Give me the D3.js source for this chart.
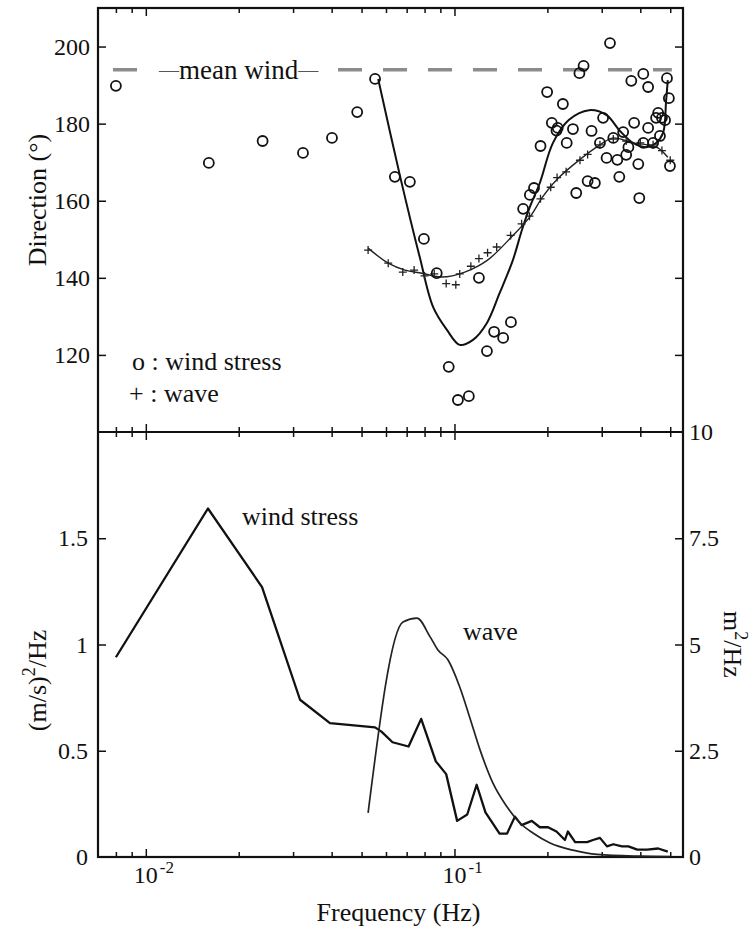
<!DOCTYPE html>
<html>
<head>
<meta charset="utf-8">
<script src="https://cdn.jsdelivr.net/npm/d3@7"></script>
<style>
  body { margin: 0; background: #fff; }
  text { font-family: "Liberation Serif", "Times New Roman", serif; fill: #111; }
</style>
</head>
<body>
<div id="chart"></div>
<script>
// ---- data ----
// top panel: wind stress direction (circles)
const windDirF = [0.0080, 0.0160, 0.0239, 0.0323, 0.0401, 0.0484, 0.0553, 0.0641, 0.0717, 0.0796,
  0.0876, 0.0958, 0.1026, 0.1113, 0.120, 0.1274, 0.1344, 0.1438, 0.1524, 0.1669,
  0.1755, 0.181, 0.190, 0.1996, 0.2067, 0.214, 0.216, 0.2245, 0.231, 0.242,
  0.248, 0.254, 0.262, 0.270, 0.278, 0.285, 0.296, 0.303, 0.311, 0.319,
  0.327, 0.337, 0.342, 0.352, 0.360, 0.366, 0.374, 0.382, 0.394, 0.397,
  0.409, 0.409, 0.424, 0.424, 0.440, 0.450, 0.457, 0.463, 0.470, 0.481,
  0.488, 0.495, 0.499];
const windDirV = [189.8, 169.8, 175.5, 172.4, 176.3, 183.0, 191.6, 166.2, 164.9, 150.1,
  141.2, 116.9, 108.3, 109.3, 140, 121, 126, 124.4, 128.5, 157.9,
  161.5, 163.3, 174.2, 188.2, 180.2, 178.2, 178.9, 185.1, 175, 178.6,
  162, 193.1, 195, 165.1, 178.1, 164.6, 175, 181.5, 171.1, 200.9,
  176.3, 170.6, 166.2, 177.8, 171.9, 173.9, 191.1, 180.2, 169.5, 160.7,
  192.9, 175, 189.5, 178.9, 175, 181.5, 182.8, 176.8, 181.5, 180.9,
  191.8, 186.6, 169];

// top panel: wave direction (crosses)
const waveDirF = [0.0525, 0.061, 0.068, 0.074, 0.080, 0.086, 0.094, 0.101, 0.104, 0.113,
  0.120, 0.128, 0.137, 0.152, 0.165, 0.175, 0.190, 0.205, 0.215, 0.230,
  0.255, 0.270, 0.296, 0.327, 0.360, 0.400, 0.440, 0.470, 0.500];
const waveDirV = [147.2, 143.8, 141.5, 142, 140.5, 141, 138.5, 138.2, 141, 143,
  145, 146.5, 148, 151, 154, 156, 160.5, 163.5, 166, 167.5,
  170.5, 172, 174.5, 176, 175.5, 175, 174.5, 173, 170.5];

// top panel: fitted curves
const windFitF = [0.0566, 0.0668, 0.0771, 0.0853, 0.0945, 0.104, 0.1148, 0.1274, 0.140, 0.1546,
  0.1654, 0.1755, 0.189, 0.2085, 0.235, 0.273, 0.311, 0.342, 0.379, 0.418,
  0.450, 0.474, 0.485, 0.491];
const windFitV = [191.6, 166, 145.5, 132.4, 126.5, 122.6, 123.9, 128.3, 136, 144.6,
  152.4, 158.4, 164.6, 175, 181, 183.5, 182.2, 178.3, 175, 173.9,
  175, 177.6, 186.1, 191.3];
const waveFitF = [0.0525, 0.061, 0.0691, 0.0784, 0.091, 0.108, 0.128, 0.153, 0.1755, 0.193,
  0.214, 0.254, 0.296, 0.327, 0.379, 0.421, 0.456, 0.491];
const waveFitV = [147.7, 143.8, 142, 141.2, 140.2, 141.5, 144.6, 150.6, 155.8, 161,
  165.4, 170.6, 174.5, 176.3, 175, 174.5, 173.7, 171.3];

const meanWind = 194;
const meanWindSpan = [0.00783, 0.506];

// bottom panel: wind stress spectrum, (m/s)^2/Hz (left axis)
const windSpecF = [0.0080, 0.0159, 0.0238, 0.0316, 0.0395, 0.0553, 0.058, 0.063, 0.071, 0.078,
  0.087, 0.094, 0.102, 0.110, 0.118, 0.126, 0.140, 0.148, 0.157, 0.165,
  0.178, 0.189, 0.201, 0.214, 0.228, 0.233, 0.246, 0.269, 0.281, 0.296,
  0.312, 0.327, 0.349, 0.366, 0.391, 0.421, 0.457, 0.491];
const windSpecV = [0.94, 1.64, 1.27, 0.74, 0.63, 0.61, 0.59, 0.54, 0.52, 0.65,
  0.45, 0.39, 0.17, 0.20, 0.34, 0.21, 0.11, 0.11, 0.19, 0.15,
  0.17, 0.14, 0.14, 0.12, 0.08, 0.12, 0.07, 0.07, 0.08, 0.09,
  0.05, 0.06, 0.05, 0.05, 0.035, 0.035, 0.04, 0.025];

// bottom panel: wave spectrum, m^2/Hz (right axis)
const waveSpecF = [0.0525, 0.0681, 0.0756, 0.0834, 0.0884, 0.0952, 0.104, 0.112, 0.121, 0.133,
  0.148, 0.163, 0.180, 0.204, 0.242, 0.290, 0.397, 0.499];
const waveSpecV = [1.04, 5.53, 5.62, 5.18, 4.87, 4.64, 4.0, 3.29, 2.52, 1.75,
  1.18, 0.8, 0.56, 0.33, 0.16, 0.06, 0.02, 0.01];

// ticks
const dirTicks = [120, 140, 160, 180, 200];
const specTicks = [0, 0.5, 1, 1.5];
const waveTicks = [0, 2.5, 5, 7.5, 10];
const freqMajor = [0.01, 0.1];
const freqExp = ['-2', '-1'];
const freqMinor = [0.008, 0.009, 0.02, 0.03, 0.04, 0.05, 0.06, 0.07, 0.08, 0.09, 0.2, 0.3, 0.4, 0.5];

// ---- layout ----
const W = 752, H = 929;
const pLeft = 98, pRight = 683, pTop = 8, pMid = 432, pBottom = 857;

const svg = d3.select('#chart').append('svg')
    .attr('width', W)
    .attr('height', H);

const x     = d3.scaleLog().domain([0.007, 0.55]).range([pLeft, pRight]);
const yDir  = d3.scaleLinear().domain([100, 210]).range([pMid, pTop]);
const ySpec = d3.scaleLinear().domain([0, 2]).range([pBottom, pMid]);
const yWave = d3.scaleLinear().domain([0, 10]).range([pBottom, pMid]);
const plain = d => String(d);

function styleAxis(g, size) {
  g.select('.domain').remove();
  g.selectAll('line').attr('stroke', '#111').attr('stroke-width', 1.5);
  g.selectAll('text').attr('font-size', size).attr('fill', '#111')
    .attr('font-family', '"Liberation Serif", serif');
}

// y axes
svg.append('g').attr('transform', `translate(${pLeft},0)`)
  .call(d3.axisLeft(yDir).tickValues(dirTicks).tickSize(-8).tickPadding(8).tickFormat(plain))
  .call(g => styleAxis(g, 24));
svg.append('g').attr('transform', `translate(${pRight},0)`)
  .call(d3.axisRight(yDir).tickValues(dirTicks).tickSize(-8).tickFormat(''))
  .call(g => styleAxis(g, 24));
svg.append('g').attr('transform', `translate(${pLeft},0)`)
  .call(d3.axisLeft(ySpec).tickValues(specTicks).tickSize(-8).tickPadding(10).tickFormat(plain))
  .call(g => styleAxis(g, 24))
  .call(g => g.selectAll('.tick').filter(d => d === 0).select('line').remove());
svg.append('g').attr('transform', `translate(${pRight},0)`)
  .call(d3.axisRight(yWave).tickValues(waveTicks).tickSize(-8).tickPadding(6).tickFormat(plain))
  .call(g => styleAxis(g, 24))
  .call(g => g.selectAll('.tick').filter(d => d === 0 || d === 10).select('line').remove());

// x axes: top border, divider (both ways), bottom
[[pTop, d3.axisTop], [pMid, d3.axisBottom], [pMid, d3.axisTop], [pBottom, d3.axisBottom]]
  .forEach(([yy, ax]) => {
    svg.append('g').attr('transform', `translate(0,${yy})`)
      .call(ax(x).tickValues(freqMinor).tickSize(-5).tickFormat(''))
      .call(g => styleAxis(g, 24));
    svg.append('g').attr('transform', `translate(0,${yy})`)
      .call(ax(x).tickValues(freqMajor).tickSize(-8).tickFormat(''))
      .call(g => styleAxis(g, 24));
  });

// x tick labels 10^-2, 10^-1
const xl = svg.append('g').selectAll('g')
  .data(freqMajor)
  .join('g')
    .attr('transform', d => `translate(${x(d)},${pBottom + 26})`);
xl.append('text')
    .attr('text-anchor', 'middle')
    .attr('font-size', 24)
    .text('10');
xl.append('text')
    .attr('x', 14)
    .attr('y', -10)
    .attr('font-size', 17)
    .text((d, i) => freqExp[i]);

// frame
svg.append('rect')
    .attr('x', pLeft).attr('y', pTop)
    .attr('width', pRight - pLeft).attr('height', pBottom - pTop)
    .attr('fill', 'none').attr('stroke', '#111').attr('stroke-width', 2.2);
svg.append('line')
    .attr('x1', pLeft).attr('x2', pRight)
    .attr('y1', pMid).attr('y2', pMid)
    .attr('stroke', '#111').attr('stroke-width', 2.2);

// mean wind dashed line with label
svg.append('line')
    .attr('x1', x(meanWindSpan[0])).attr('x2', x(meanWindSpan[1]))
    .attr('y1', yDir(meanWind)).attr('y2', yDir(meanWind))
    .attr('stroke', '#8c8c8c').attr('stroke-width', 3.5)
    .attr('stroke-dasharray', '24 21');
const mwBg = svg.append('rect').attr('fill', '#fff');
const mwText = svg.append('text')
    .attr('x', x(0.0200))
    .attr('y', yDir(meanWind))
    .attr('text-anchor', 'middle')
    .attr('dominant-baseline', 'central')
    .attr('font-size', 27);
mwText.append('tspan').attr('font-size', 20).attr('fill', '#555').text('\u2014');
mwText.append('tspan').text('mean wind');
mwText.append('tspan').attr('font-size', 20).attr('fill', '#555').text('\u2014');
const bb = mwText.node().getBBox();
mwBg.attr('x', bb.x - 18).attr('y', bb.y + 4)
    .attr('width', bb.width + 34).attr('height', bb.height - 8);

// fitted curves
const line = d3.line().curve(d3.curveCatmullRom.alpha(0.5));
svg.append('path')
    .attr('d', line(windFitF.map((f, i) => [x(f), yDir(windFitV[i])])))
    .attr('fill', 'none').attr('stroke', '#111').attr('stroke-width', 2);
svg.append('path')
    .attr('d', line(waveFitF.map((f, i) => [x(f), yDir(waveFitV[i])])))
    .attr('fill', 'none').attr('stroke', '#222').attr('stroke-width', 1.4);

// wave direction crosses
svg.append('g').selectAll('path')
  .data(waveDirF.map((f, i) => [f, waveDirV[i]]))
  .join('path')
    .attr('transform', d => `translate(${x(d[0])},${yDir(d[1])})`)
    .attr('d', 'M-4,0H4M0,-4V4')
    .attr('stroke', '#222').attr('stroke-width', 1.3);

// wind stress direction circles
svg.append('g').selectAll('circle')
  .data(windDirF.map((f, i) => [f, windDirV[i]]))
  .join('circle')
    .attr('cx', d => x(d[0]))
    .attr('cy', d => yDir(d[1]))
    .attr('r', 5)
    .attr('fill', 'none')
    .attr('stroke', '#111')
    .attr('stroke-width', 1.8);

// spectra
svg.append('path')
    .attr('d', d3.line()(windSpecF.map((f, i) => [x(f), ySpec(windSpecV[i])])))
    .attr('fill', 'none').attr('stroke', '#111').attr('stroke-width', 2.3)
    .attr('stroke-linejoin', 'round');
svg.append('path')
    .attr('d', d3.line().curve(d3.curveMonotoneX)(waveSpecF.map((f, i) => [x(f), yWave(waveSpecV[i])])))
    .attr('fill', 'none').attr('stroke', '#222').attr('stroke-width', 1.7);

// legend / annotations
svg.append('text').attr('x', 132).attr('y', 370).attr('font-size', 26).text('o : wind stress');
svg.append('text').attr('x', 129).attr('y', 402).attr('font-size', 26).text('+ : wave');
svg.append('text').attr('x', 242).attr('y', 525).attr('font-size', 26).text('wind stress');
svg.append('text').attr('x', 463).attr('y', 640).attr('font-size', 26).text('wave');

// axis titles
svg.append('text')
    .attr('transform', `translate(46,${(pTop + pMid) / 2 - 20}) rotate(-90)`)
    .attr('text-anchor', 'middle')
    .attr('font-size', 26)
    .text('Direction (\u00b0)');

const lt = svg.append('text')
    .attr('transform', `translate(46,${(pMid + pBottom) / 2 + 36}) rotate(-90)`)
    .attr('text-anchor', 'middle')
    .attr('font-size', 26);
lt.append('tspan').text('(m/s)');
lt.append('tspan').attr('dy', -11).attr('font-size', 18).text('2');
lt.append('tspan').attr('dy', 11).text('/Hz');

const rt = svg.append('text')
    .attr('transform', `translate(724,${(pMid + pBottom) / 2}) rotate(90)`)
    .attr('text-anchor', 'middle')
    .attr('font-size', 26);
rt.append('tspan').text('m');
rt.append('tspan').attr('dy', -11).attr('font-size', 18).text('2');
rt.append('tspan').attr('dy', 11).text('/Hz');

svg.append('text')
    .attr('x', (pLeft + pRight) / 2 + 8)
    .attr('y', pBottom + 64)
    .attr('text-anchor', 'middle')
    .attr('font-size', 26)
    .text('Frequency (Hz)');
</script>
</body>
</html>
